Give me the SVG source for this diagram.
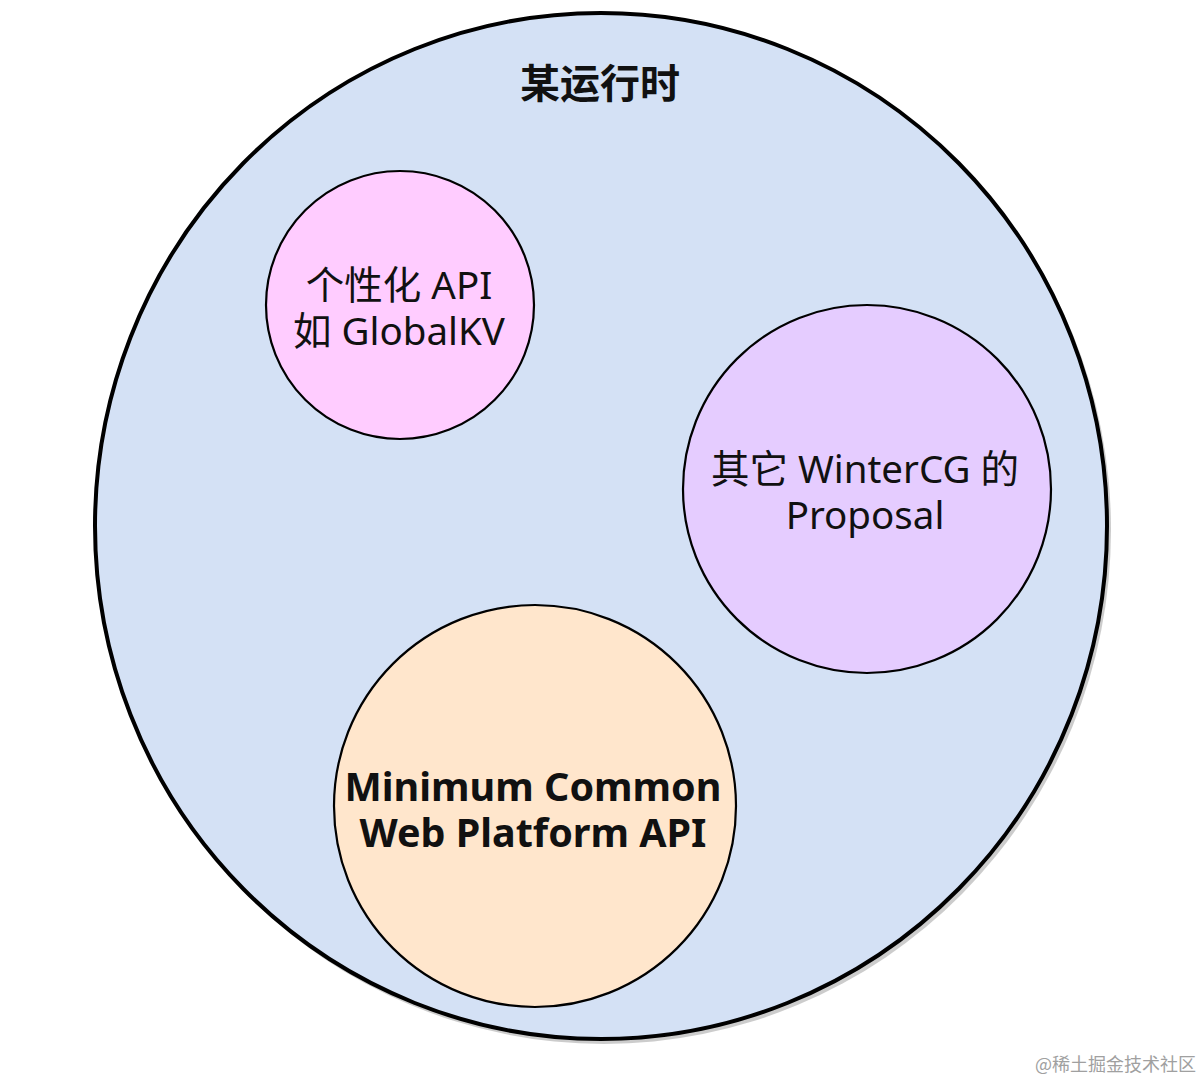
<svg xmlns="http://www.w3.org/2000/svg" width="1204" height="1082" viewBox="0 0 1204 1082">
  <style>
    .lbl { font-family: "Noto Sans", "Noto Sans CJK SC", sans-serif; fill: #111; text-anchor: middle; }
    .reg { font-size: 38.5px; }
    .bold { font-size: 39.5px; font-weight: bold; }
    .inner { stroke: #000; stroke-width: 2.2; }
  </style>
  <rect width="1204" height="1082" fill="#fff"/>
  <g id="runtime">
    <ellipse cx="604" cy="530" rx="507" ry="514" fill="#bfbfbf" opacity="0.8"/>
    <ellipse cx="601" cy="526" rx="506" ry="513" fill="#d4e1f5" stroke="#000" stroke-width="4"/>
    <text class="lbl" x="600" y="98" font-size="40" font-weight="bold">某运行时</text>
  </g>
  <g id="custom-api">
    <circle class="inner" cx="400" cy="305" r="134" fill="#ffccff"/>
    <text class="lbl reg" x="399" y="299">个性化 API</text>
    <text class="lbl reg" x="399" y="345">如 GlobalKV</text>
  </g>
  <g id="proposal">
    <circle class="inner" cx="867" cy="489" r="184" fill="#e5ccff"/>
    <text class="lbl reg" x="865" y="483">其它 WinterCG 的</text>
    <text class="lbl reg" x="865" y="529">Proposal</text>
  </g>
  <g id="mcwp">
    <circle class="inner" cx="535" cy="806" r="201" fill="#ffe6cc"/>
    <text class="lbl bold" x="533" y="801">Minimum Common</text>
    <text class="lbl bold" x="533" y="847">Web Platform API</text>
  </g>
  <g id="connectors"></g>
  <text x="1196" y="1071" font-family="Noto Sans CJK SC, sans-serif" font-size="18" fill="#a0a0a0" text-anchor="end">@稀土掘金技术社区</text>
</svg>
